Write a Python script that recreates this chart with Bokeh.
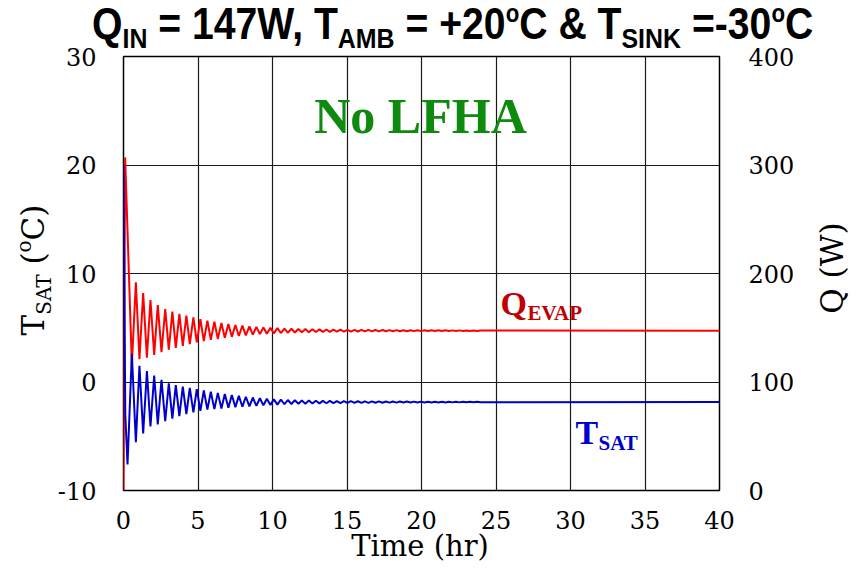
from bokeh.plotting import figure
from bokeh.models import Range1d, LinearAxis, Label, FixedTicker, PrintfTickFormatter, Div
from bokeh.layouts import column, row
from bokeh.embed import file_html
from bokeh.resources import INLINE

# ---------------- data ----------------
time_ticks = [0, 5, 10, 15, 20, 25, 30, 35, 40]
tsat_ticks = [-10, 0, 10, 20, 30]
q_ticks = [0, 100, 200, 300, 400]

# start-up transient
t_start_red = [0.0, 0.11]
q_start_red = [0.0, 307.0]
t_start_blue = [0.0, 0.12, 0.27]
tsat_start_blue = [20.0, -3.0, -7.6]

# times of the successive extrema of the damped oscillation (hr)
t_ext = [0.56, 0.83, 1.07, 1.32, 1.57, 1.81, 2.06, 2.30, 2.55, 2.80,
         3.04, 3.28, 3.51, 3.75, 3.98, 4.22, 4.45, 4.69, 4.92, 5.16,
         5.39, 5.63, 5.86, 6.10, 6.33, 6.57, 6.80, 7.04, 7.27, 7.51,
         7.74, 7.98, 8.21, 8.45, 8.68, 8.92, 9.15, 9.39, 9.62, 9.86,
         10.09, 10.33, 10.56, 10.80, 11.03, 11.27, 11.50, 11.74, 11.97, 12.21,
         12.44, 12.68, 12.91, 13.15, 13.38, 13.62, 13.85, 14.09, 14.32, 14.56,
         14.79, 15.03, 15.26, 15.50, 15.73, 15.97, 16.20, 16.44, 16.67, 16.91,
         17.14, 17.38, 17.61, 17.85, 18.08, 18.32, 18.55, 18.79, 19.02, 19.26,
         19.49, 19.73, 19.96, 20.20, 20.43, 20.67, 20.90, 21.14, 21.37, 21.61,
         21.84, 22.08, 22.31, 22.55, 22.78, 23.02, 23.25, 23.49, 23.72, 23.96]

# Q_EVAP (W) at those extrema
q_evap_ext = [116, 192, 121, 182, 122.5, 175.5, 125, 171, 127.5, 167.3,
              129.7, 164.8, 131.5, 162.7, 133.3, 161.2, 135, 159.6, 136.5, 158,
              137.8, 156.6, 138.8, 155.5, 139.7, 154.4, 140.7, 153.4, 141.6, 152.6,
              142.4, 151.9, 143.0, 151.3, 143.6, 150.75, 144.1, 150.3, 144.5, 149.9,
              144.85, 149.6, 145.15, 149.3, 145.4, 149.1, 145.6, 148.9, 145.8, 148.75,
              145.9, 148.6, 146.05, 148.5, 146.15, 148.4, 146.25, 148.3, 146.35, 148.2,
              146.44, 148.13, 146.49, 148.08, 146.54, 148.03, 146.6, 147.98, 146.65, 147.93,
              146.7, 147.88, 146.74, 147.85, 146.77, 147.81, 146.81, 147.77, 146.84, 147.74,
              146.88, 147.71, 146.9, 147.68, 146.93, 147.66, 146.95, 147.64, 146.98, 147.61,
              147.0, 147.59, 147.02, 147.57, 147.04, 147.56, 147.05, 147.54, 147.07, 147.52]

# T_SAT (degC) at those extrema
tsat_ext = [2.6, -5.55, 1.5, -4.75, 1.0, -4.1, 0.6, -3.9, 0.2, -3.62,
            -0.12, -3.38, -0.28, -3.15, -0.42, -2.95, -0.55, -2.8, -0.66, -2.66,
            -0.78, -2.55, -0.9, -2.5, -1.0, -2.44, -1.1, -2.38, -1.2, -2.33,
            -1.28, -2.28, -1.36, -2.24, -1.43, -2.2, -1.5, -2.15, -1.55, -2.11,
            -1.6, -2.08, -1.63, -2.05, -1.66, -2.03, -1.68, -2.01, -1.7, -1.995,
            -1.71, -1.98, -1.725, -1.97, -1.735, -1.96, -1.745, -1.95, -1.755, -1.94,
            -1.764, -1.933, -1.769, -1.928, -1.774, -1.923, -1.78, -1.918, -1.785, -1.913,
            -1.79, -1.908, -1.794, -1.905, -1.797, -1.901, -1.801, -1.897, -1.804, -1.894,
            -1.808, -1.891, -1.81, -1.888, -1.813, -1.886, -1.815, -1.884, -1.818, -1.881,
            -1.82, -1.879, -1.822, -1.877, -1.824, -1.876, -1.825, -1.874, -1.827, -1.872]

t_end = 40.0
q_evap_end = 147.3
tsat_end = -1.85

n = min(len(t_ext), len(q_evap_ext), len(tsat_ext))
t_red = t_start_red + t_ext[:n] + [t_end]
q_red = q_start_red + q_evap_ext[:n] + [q_evap_end]
t_blue = t_start_blue + t_ext[:n] + [t_end]
y_blue = tsat_start_blue + tsat_ext[:n] + [tsat_end]

# ---------------- layout geometry (page pixels) ----------------
TOTAL_W = 848
TITLE_H = 40
LEFT_W = 50
RIGHT_W = 48
P_W = TOTAL_W - LEFT_W - RIGHT_W          # 750
BL, BR, BT, BB = 73, 81, 16, 52            # figure borders -> frame 596 x 434
P_H = BT + 434 + BB                         # 502
BOTTOM_H = 564 - TITLE_H - P_H              # 22

p = figure(width=P_W, height=P_H, title=None,
           x_range=Range1d(0, 40), y_range=Range1d(-10, 30),
           output_backend="svg", toolbar_location=None,
           min_border_left=BL, min_border_right=BR,
           min_border_top=BT, min_border_bottom=BB, margin=0)
p.extra_y_ranges = {"q": Range1d(0, 400)}
raxis = LinearAxis(y_range_name="q", ticker=FixedTicker(ticks=q_ticks))
p.add_layout(raxis, "right")

p.xaxis.ticker = FixedTicker(ticks=time_ticks)
p.yaxis[0].ticker = FixedTicker(ticks=tsat_ticks)

for ax in [p.xaxis[0], p.yaxis[0], raxis]:
    ax.formatter = PrintfTickFormatter(format="%d")
    ax.major_tick_in = 0
    ax.major_tick_out = 0
    ax.minor_tick_in = 0
    ax.minor_tick_out = 0
    ax.axis_line_color = None
    ax.major_label_text_font = "DejaVu Serif"
    ax.major_label_text_font_size = "24px"
    ax.major_label_text_color = "#000000"
p.xaxis[0].major_label_standoff = 20
p.yaxis[0].major_label_standoff = 27
raxis.major_label_standoff = 29

p.xgrid.ticker = FixedTicker(ticks=time_ticks)
p.ygrid.ticker = FixedTicker(ticks=tsat_ticks)
for g in (p.xgrid[0], p.ygrid[0]):
    g.grid_line_color = "#1a1a1a"
    g.grid_line_width = 1.2
    g.grid_line_alpha = 1.0

p.outline_line_color = "#000000"
p.outline_line_width = 1.5
p.outline_line_alpha = 1.0
p.background_fill_color = "white"
p.border_fill_color = "white"
p.border_fill_alpha = 0.0

p.line(t_red, q_red, y_range_name="q", line_color="#ff0000", line_width=2)
p.line(t_blue, y_blue, line_color="#0000cc", line_width=2)

# ---------------- in-plot annotations ----------------
X0, X1, Y0, Y1 = 123.0, 719.0, 56.0, 490.0
def dx(px):
    return (px - X0) / (X1 - X0) * 40.0
def dy(py):
    return 30.0 - (py - Y0) / (Y1 - Y0) * 40.0

def lab(px, py, text, size, font, color, align="left"):
    p.add_layout(Label(x=dx(px), y=dy(py), text=text, text_font=font,
                       text_font_size=f"{size}px", text_font_style="bold",
                       text_color=color, text_align=align, text_baseline="middle"))

SERIF_B = "Liberation Serif"
lab(420, 115, "No LFHA", 50, SERIF_B, "#0e8a0e", align="center")
lab(500, 303, "Q", 34, SERIF_B, "#c00000")
lab(527, 312, "EVAP", 21, SERIF_B, "#c00000")
lab(575, 432, "T", 34, SERIF_B, "#0000cc")
lab(598, 442, "SAT", 21, SERIF_B, "#0000cc")

# ---------------- outside texts (HTML with sub/superscripts) ----------------
def sub(t, size, dy_px):
    return f'<span style="font-size:{size}px;position:relative;top:{dy_px}px">{t}</span>'

TF = "'Liberation Sans',Arial,sans-serif"
title_inner = ("Q" + sub("IN", 28, 9) + " = 147W, T" + sub("AMB", 28, 9) +
               " = +20" + sub("o", 25, -17) + "C &amp; T" + sub("SINK", 28, 9) +
               " =-30" + sub("o", 25, -17) + "C")
# baseline at y = top + 38.9 for 44px Liberation Sans with line-height 1
title_html = (f'<div style="position:relative;width:{TOTAL_W}px;height:{TITLE_H}px;">'
              f'<div style="position:absolute;left:92px;top:2px;white-space:nowrap;line-height:1;'
              f'font-family:{TF};font-weight:bold;font-size:44px;color:#000;'
              f'transform-origin:0 0;transform:scaleX(0.89);">'
              f'{title_inner}</div></div>')

SERIF = "'DejaVu Serif',serif"
ylab_inner = "T" + sub("SAT", 20, 7) + " (" + sub("o", 20, -13) + "C)"
left_html = (f'<div style="position:relative;width:{LEFT_W}px;height:{P_H}px;">'
             f'<div style="position:absolute;left:33px;top:{270 - TITLE_H}px;white-space:nowrap;line-height:1;'
             f'font-family:{SERIF};font-size:31px;color:#000;'
             f'transform:translate(-50%,-50%) rotate(-90deg);">{ylab_inner}</div></div>')

right_html = (f'<div style="position:relative;width:{RIGHT_W}px;height:{P_H}px;">'
              f'<div style="position:absolute;left:{832 - (LEFT_W + P_W)}px;top:{268 - TITLE_H}px;white-space:nowrap;line-height:1;'
              f'font-family:{SERIF};font-size:31px;color:#000;'
              f'transform:translate(-50%,-50%) rotate(-90deg);">Q (W)</div></div>')

# baseline at y = top + 0.846*size for DejaVu Serif with line-height 1
XL_SIZE = 29
xl_top = 556.5 - (TITLE_H + P_H) - 0.846 * XL_SIZE
bottom_html = (f'<div style="position:relative;width:{TOTAL_W}px;height:{BOTTOM_H}px;">'
               f'<div style="position:absolute;left:420px;top:{xl_top:.1f}px;white-space:nowrap;line-height:1;'
               f'font-family:{SERIF};font-size:{XL_SIZE}px;color:#000;transform:translateX(-50%);">Time (hr)</div></div>')

divstyle = {"overflow": "visible"}
title_div = Div(text=title_html, width=TOTAL_W, height=TITLE_H, margin=0, styles=divstyle)
left_div = Div(text=left_html, width=LEFT_W, height=P_H, margin=0, styles=divstyle)
right_div = Div(text=right_html, width=RIGHT_W, height=P_H, margin=0, styles=divstyle)
bottom_div = Div(text=bottom_html, width=TOTAL_W, height=BOTTOM_H, margin=0, styles=divstyle)

layout = column(title_div, row(left_div, p, right_div, spacing=0, margin=0),
                bottom_div, spacing=0, margin=0)

open("out.html", "w").write(file_html(layout, INLINE))
